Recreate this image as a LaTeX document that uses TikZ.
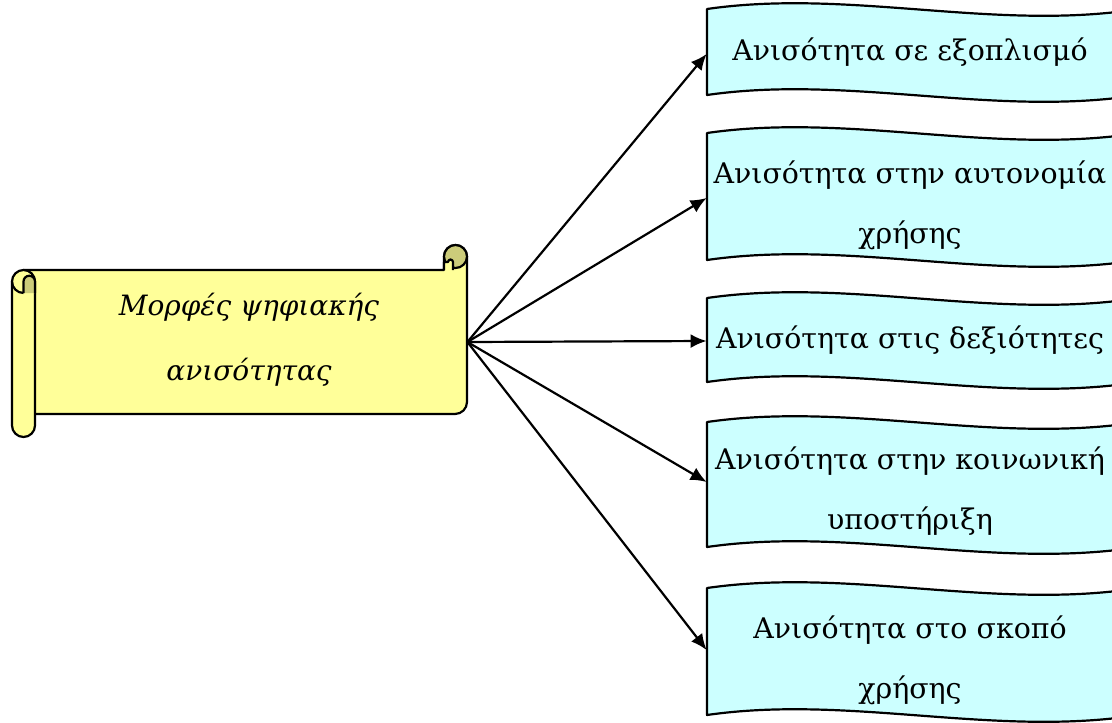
\documentclass[tikz,border=0pt]{standalone}
\usepackage{fontspec}
\setmainfont{DejaVu Serif}
\usepackage{xcolor}
\usetikzlibrary{shapes, arrows.meta, positioning, calc}

\definecolor{scrollfill}{HTML}{FFFF99}
\definecolor{scrollcurl}{HTML}{CCCC7A}
\definecolor{wavefill}{HTML}{CCFFFF}

\tikzset{
  outline/.style={draw=black, line width=1.1pt, line join=round},
  slot/.style={inner sep=0pt, minimum width=203pt},
  wavetext/.style={font=\fontsize{14.2}{30}\selectfont, align=center, inner sep=0pt},
  scrolltext/.style={font=\fontsize{14}{32.5}\selectfont\itshape, align=center, inner sep=0pt},
  link/.style={line width=1.1pt, -{Latex[length=8pt,width=7pt]}},
}

\begin{document}
\begin{tikzpicture}[x=0.5pt,y=-0.5pt]
          \useasboundingbox (0,0) rectangle (1112,722);
          \clip (0,0) rectangle (1112,722);

          % scroll
          \draw[outline, fill=scrollfill] (23.5,270) -- (444,270) -- (444,256.5)
            arc[start angle=180, end angle=360, radius=11.5] -- (467,402)
            arc[start angle=0, end angle=90, radius=12] -- (23.5,414) -- cycle;
          \draw[outline, fill=scrollcurl] (455.5,256.5) circle[radius=11.5];
          \draw[outline, fill=scrollfill] (444,270) -- (444,262) -- (448,262)
            arc[start angle=180, end angle=360, radius=2.5] -- (453,270);
          \draw[outline, fill=scrollfill] (12,281.5)
            arc[start angle=180, end angle=360, radius=11.5] -- (35,425.5)
            arc[start angle=0, end angle=180, radius=11.5] -- cycle;
          \draw[outline, fill=scrollcurl] (23.5,293) -- (23.5,281.5)
            arc[start angle=180, end angle=360, radius=5.75] -- (35,293);
          \draw[outline] (12,281.5) arc[start angle=180, end angle=90, radius=11.5];

          \node[inner sep=0pt, minimum width=221.75pt, minimum height=72pt] (scroll) at (245.25,342) {};
          \node[scrolltext] (forms) at (249,340) {Μορφές ψηφιακής\\ανισότητας};

          % waves
          \draw[outline, fill=wavefill] (707,9) .. controls (846,-11) and (985,29) .. (1125,11)
            -- (1125,97) .. controls (985,115) and (846,75) .. (707,95) -- cycle;
          \draw[outline, fill=wavefill] (707,133) .. controls (846,113) and (985,153) .. (1125,135)
            -- (1125,262) .. controls (985,280) and (846,240) .. (707,260) -- cycle;
          \draw[outline, fill=wavefill] (707,298) .. controls (846,278) and (985,318) .. (1125,300)
            -- (1125,384) .. controls (985,402) and (846,362) .. (707,382) -- cycle;
          \draw[outline, fill=wavefill] (707,422) .. controls (846,402) and (985,442) .. (1125,424)
            -- (1125,549) .. controls (985,567) and (846,527) .. (707,547) -- cycle;
          \draw[outline, fill=wavefill] (707,588) .. controls (846,568) and (985,608) .. (1125,590)
            -- (1125,717) .. controls (985,735) and (846,695) .. (707,715) -- cycle;

          \node[slot, minimum height=43pt] (kit) at (910,54) {};
          \node[slot, minimum height=63.5pt] (autonomy) at (910,198) {};
          \node[slot, minimum height=42pt] (skills) at (910,341) {};
          \node[slot, minimum height=62.5pt] (support) at (910,482) {};
          \node[slot, minimum height=63.5pt] (purpose) at (910,650) {};

          \node[wavetext] (kit-t) at (910,52) {Ανισότητα σε εξοπλισμό};
          \node[wavetext] (autonomy-t) at (910,205) {Ανισότητα στην αυτονομία\\χρήσης};
          \node[wavetext] (skills-t) at (910,340) {Ανισότητα στις δεξιότητες};
          \node[wavetext] (support-t) at (910,491) {Ανισότητα στην κοινωνική\\υποστήριξη};
          \node[wavetext] (purpose-t) at (910,660) {Ανισότητα στο σκοπό\\χρήσης};

          \draw[link] (scroll.east) -- (kit.west);
          \draw[link] (scroll.east) -- (autonomy.west);
          \draw[link] (scroll.east) -- (skills.west);
          \draw[link] (scroll.east) -- (support.west);
          \draw[link] (scroll.east) -- (purpose.west);
        \end{tikzpicture}
\end{document}
